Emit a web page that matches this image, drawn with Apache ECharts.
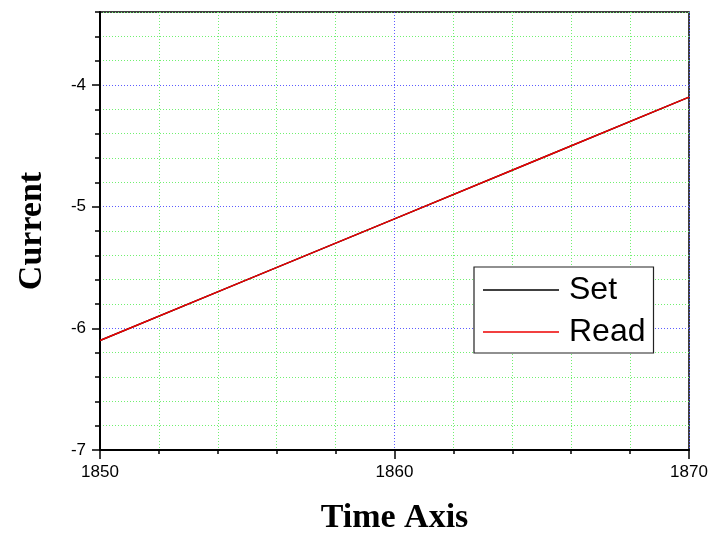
<!DOCTYPE html>
<html lang="en">
<head>
    <meta charset="UTF-8">
    <title>Current vs Time</title>
    <style>
        html, body { margin: 0; padding: 0; background: #fff; }
        #box { width: 721px; height: 542px; }
    </style>
</head>
<body>
<div id="box"></div>
<script src="https://cdn.jsdelivr.net/npm/echarts@6/dist/echarts.min.js"></script>
<script>
    // data
    var timeVals = [1850, 1855, 1860, 1865, 1870];
    var setVals  = [-6.1, -5.6, -5.1, -4.6, -4.1];
    var readVals = [-6.1, -5.6, -5.1, -4.6, -4.1];
    var yMajorTicks = [-7, -6, -5, -4];

    var green = '#70f070';
    var blue = '#5c5cff';
    var dots = [1, 2];

    function pairs(xs, ys) {
        return xs.map(function (x, i) { return [x, ys[i]]; });
    }

    var mychart = echarts.init(document.getElementById('box'));
    var option = {
        animation: false,
        grid: {
            left: 100, right: 32, top: 12, bottom: 92,
            show: true, borderColor: '#000', borderWidth: 1.5,
            backgroundColor: 'transparent'
        },
        legend: {
            left: 474, top: 267,
            orient: 'vertical',
            backgroundColor: '#fff',
            borderColor: '#222', borderWidth: 1.2,
            padding: [7, 8, 5, 9],
            icon: 'rect',
            itemWidth: 76, itemHeight: 1.3, itemGap: 10,
            textStyle: { fontFamily: 'Liberation Sans, Arial', fontSize: 32, color: '#000', padding: [0, 0, 0, 5] },
            data: ['Set', 'Read']
        },
        xAxis: [{
            type: 'value', min: 1850, max: 1870, interval: 2,
            name: 'Time Axis', nameLocation: 'middle', nameGap: 51,
            nameTextStyle: { fontFamily: 'Liberation Serif, Times New Roman', fontWeight: 'bold', fontSize: 34, color: '#000' },
            axisLine: { lineStyle: { color: '#000', width: 2 } },
            axisTick: { length: 4, lineStyle: { color: '#000', width: 1.5 } },
            axisLabel: {
                margin: 14, color: '#000', fontFamily: 'Liberation Sans, Arial', fontSize: 17,
                formatter: function (v) { return v % 10 === 0 ? String(v) : ''; }
            },
            splitLine: { show: true, lineStyle: { color: [blue, green, green, green, green], type: dots, width: 1 } }
        }, {
            type: 'value', min: 1850, max: 1870, interval: 10, position: 'bottom',
            axisLine: { show: false },
            axisTick: { length: 9, lineStyle: { color: '#000', width: 1.5 } },
            axisLabel: { show: false },
            splitLine: { show: false }
        }],
        yAxis: [{
            type: 'value', min: -7, max: -3.4, interval: 0.2,
            name: 'Current', nameLocation: 'middle', nameGap: 51,
            nameTextStyle: { fontFamily: 'Liberation Serif, Times New Roman', fontWeight: 'bold', fontSize: 34, color: '#000' },
            axisLine: { show: true, lineStyle: { color: '#000', width: 2 } },
            axisTick: { show: true, length: 5, lineStyle: { color: '#000', width: 1.5 } },
            axisLabel: {
                margin: 14, color: '#000', fontFamily: 'Liberation Sans, Arial', fontSize: 17,
                formatter: function (v) {
                    return Math.abs(v - Math.round(v)) < 1e-6 ? String(Math.round(v)) : '';
                }
            },
            splitLine: { show: true, lineStyle: { color: [blue, green, green, green, green], type: dots, width: 1 } }
        }, {
            type: 'value', min: -7, max: -3.4, interval: 1, position: 'left',
            axisLine: { show: false },
            axisTick: { show: true, length: 8, customValues: yMajorTicks, lineStyle: { color: '#000', width: 1.5 } },
            axisLabel: { show: false },
            splitLine: { show: false }
        }],
        series: [{
            name: 'Set', type: 'line', symbol: 'none',
            xAxisIndex: 0, yAxisIndex: 0,
            lineStyle: { color: '#000', width: 1.4 },
            itemStyle: { color: '#000' },
            data: pairs(timeVals, setVals)
        }, {
            name: 'Read', type: 'line', symbol: 'none',
            xAxisIndex: 0, yAxisIndex: 0,
            lineStyle: { color: '#ee0000', width: 1.4 },
            itemStyle: { color: '#ee0000' },
            data: pairs(timeVals, readVals)
        }]
    };
    mychart.setOption(option);
</script>
</body>
</html>
